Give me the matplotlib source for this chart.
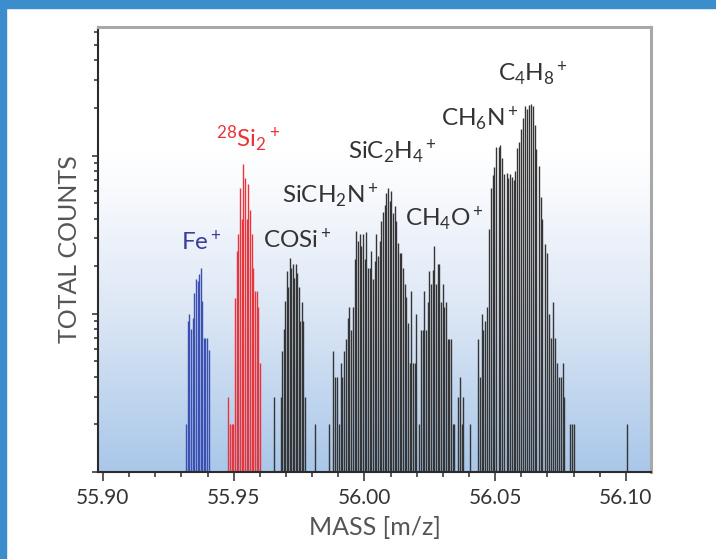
import numpy as np
from matplotlib import pyplot as plt
import matplotlib.ticker as mticker
from matplotlib.colors import LinearSegmentedColormap
from matplotlib.patches import Rectangle

plt.rcParams['font.family'] = ['Lato', 'DejaVu Sans']
plt.rcParams['mathtext.fontset'] = 'custom'
plt.rcParams['mathtext.rm'] = 'Lato'
plt.rcParams['mathtext.it'] = 'Lato:italic'
plt.rcParams['mathtext.bf'] = 'Lato:bold'
plt.rcParams['mathtext.default'] = 'regular'

# Fe+ peak
fe_mass = [55.9317, 55.9324, 55.9330, 55.9337, 55.9343, 55.9349, 55.9356, 55.9362,
           55.9368, 55.9374, 55.9379, 55.9385, 55.9391, 55.9398, 55.9404]
fe_counts = [2.0, 9.0, 10.0, 8.0, 9.4, 13.6, 16.6, 16.1, 17.9, 19.5, 12.1, 7.0, 7.0, 7.0, 5.9]

# 28Si2+ peak
si_mass = [55.9479, 55.9486, 55.9492, 55.9498, 55.9505, 55.9511, 55.9517, 55.9524,
           55.9530, 55.9537, 55.9543, 55.9550, 55.9556, 55.9562, 55.9569, 55.9575,
           55.9581, 55.9588, 55.9594, 55.9600]
si_counts = [3.0, 2.0, 2.0, 2.0, 12.6, 25.0, 32.0, 62.0, 40.0, 88.0, 72.0, 40.0,
             66.0, 45.0, 32.0, 19.5, 14.0, 14.0, 11.0, 4.9]

# everything else (COSi+, SiCH2N+, SiC2H4+, CH4O+, CH6N+, C4H8+)
other_mass = [
    55.9654, 55.9680, 55.9686, 55.9691, 55.9697, 55.9702, 55.9708, 55.9714, 55.9720,
    55.9725, 55.9731, 55.9737, 55.9743, 55.9748, 55.9754, 55.9760, 55.9766, 55.9771,
    55.9810,
    55.9865, 55.9881, 55.9887, 55.9896, 55.9902, 55.9909, 55.9915, 55.9922, 55.9929,
    55.9936, 55.9942, 55.9948, 55.9955, 55.9963, 55.9969, 55.9975, 55.9982, 55.9988,
    55.9994, 56.0001, 56.0007, 56.0013, 56.0020, 56.0026, 56.0032, 56.0039, 56.0045,
    56.0052, 56.0058, 56.0064, 56.0071, 56.0077, 56.0083, 56.0090, 56.0096, 56.0102,
    56.0109, 56.0115, 56.0122, 56.0128, 56.0135, 56.0141, 56.0147, 56.0154, 56.0160,
    56.0166, 56.0173, 56.0179, 56.0185, 56.0192, 56.0198,
    56.0210, 56.0216, 56.0223, 56.0229, 56.0235, 56.0242, 56.0248, 56.0254, 56.0261,
    56.0267, 56.0273, 56.0280, 56.0286, 56.0293, 56.0299, 56.0305, 56.0312, 56.0318,
    56.0324, 56.0331, 56.0337, 56.0343, 56.0359, 56.0365, 56.0372, 56.0378, 56.0403,
    56.0435, 56.0442, 56.0449, 56.0454, 56.0462, 56.0470, 56.0477, 56.0483, 56.0490,
    56.0496, 56.0505, 56.0513, 56.0519, 56.0526, 56.0535, 56.0544, 56.0550, 56.0556,
    56.0564, 56.0571, 56.0577, 56.0584, 56.0592, 56.0600, 56.0607, 56.0615, 56.0623,
    56.0630, 56.0637, 56.0643, 56.0651, 56.0658, 56.0666, 56.0674, 56.0681, 56.0689,
    56.0697, 56.0704, 56.0712, 56.0720, 56.0727, 56.0735, 56.0743, 56.0750, 56.0758,
    56.0763, 56.0786, 56.0792, 56.0801, 56.1003]
other_counts = [
    3.0, 3.0, 5.85, 8.0, 12.0, 18.6, 14.7, 22.4, 19.5,
    20.6, 16.8, 20.6, 18.0, 14.7, 9.0, 11.8, 9.0, 3.0,
    2.0,
    2.0, 5.85, 3.96, 3.96, 2.0, 4.9, 3.96, 5.85, 6.9,
    9.4, 11.0, 7.9, 11.0, 22.2, 33.3, 28.8, 32.0, 26.8,
    32.0, 22.2, 33.0, 19.5, 19.5, 24.9, 16.6, 21.5, 32.0,
    23.2, 28.8, 38.5, 44.0, 48.5, 57.7, 62.0, 51.4, 60.0,
    43.2, 47.8, 38.5, 28.0, 24.2, 24.2, 19.5, 15.4, 12.8,
    8.8, 4.9, 14.0, 4.9, 4.9, 10.0,
    2.0, 7.9, 7.9, 14.0, 7.9, 11.8, 18.7, 15.4, 18.9,
    26.8, 15.4, 20.6, 20.6, 11.8, 15.4, 11.0, 11.8, 6.9,
    6.9, 6.9, 2.0, 2.0, 3.0, 3.96, 2.0, 3.0, 2.0,
    6.9, 3.96, 10.0, 7.9, 9.0, 11.0, 34.2, 62.0, 75.0,
    85.0, 113.0, 113.0, 117.0, 96.0, 77.0, 78.0, 72.0, 77.0,
    73.0, 70.0, 80.0, 112.0, 122.0, 148.0, 173.0, 205.0, 198.0,
    210.0, 212.0, 205.0, 157.0, 110.0, 86.0, 55.0, 40.0, 27.6,
    24.2, 10.0, 7.0, 11.8, 7.0, 4.9, 3.96, 3.96, 4.9,
    3.0, 2.0, 2.0, 2.0, 2.0]

# peak labels: text, mass, counts, colour
labels = [r'Fe$^+$', r'$^{28}$Si$_2$$^+$', r'COSi$^+$', r'SiCH$_2$N$^+$',
          r'SiC$_2$H$_4$$^+$', r'CH$_4$O$^+$', r'CH$_6$N$^+$', r'C$_4$H$_8$$^+$']
label_mass = [55.9375, 55.9555, 55.9742, 55.9868, 56.0109, 56.0304, 56.0442, 56.0644]
label_counts = [28.8, 128, 29.6, 56, 106, 39.6, 171, 328]
label_colors = ['#3a3f9a', '#e8353b', '#333333', '#333333', '#333333', '#333333',
                '#333333', '#333333']

xticks = [55.90, 55.95, 56.00, 56.05, 56.10]


def main():
    fig = plt.figure(figsize=(7.16, 5.59), dpi=100)

    # blue frame at top and left
    fig.patches.append(Rectangle((0, 1 - 8 / 559), 1, 8 / 559, transform=fig.transFigure,
                                 color='#3b8dcb', zorder=0))
    fig.patches.append(Rectangle((0, 0), 6 / 716, 1, transform=fig.transFigure,
                                 color='#3b8dcb', zorder=0))

    pos = [98 / 716, 1 - 472 / 559, (651 - 98) / 716, (472 - 27) / 559]

    # gradient background
    bg = fig.add_axes(pos)
    cmap = LinearSegmentedColormap.from_list(
        'bg', [(0.0, '#a9c7e9'), (0.35, '#dbe6f5'), (0.62, '#f7f9fd'), (0.72, '#ffffff'),
               (1.0, '#ffffff')])
    grad = np.linspace(0, 1, 256).reshape(-1, 1)
    bg.imshow(grad, aspect='auto', extent=[0, 1, 0, 1], origin='lower', cmap=cmap)
    bg.axis('off')

    ax = fig.add_axes(pos, facecolor='none')
    ax.set_yscale('log')
    ax.set_xlim(55.8981, 56.1096)
    ax.set_ylim(1, 650)

    ax.vlines(fe_mass, 1, fe_counts, colors='#3c50b2', linewidth=1.0)
    ax.vlines(si_mass, 1, si_counts, colors='#e8353b', linewidth=1.0)
    ax.vlines(other_mass, 1, other_counts, colors='#353535', linewidth=1.0)

    for t, m, c, col in zip(labels, label_mass, label_counts, label_colors):
        ax.text(m, c, t, ha='center', va='center', fontsize=17.5, color=col)

    ax.xaxis.set_major_locator(mticker.FixedLocator(xticks))
    ax.xaxis.set_major_formatter(mticker.FormatStrFormatter('%.2f'))
    ax.xaxis.set_minor_locator(mticker.MultipleLocator(0.01))
    ax.yaxis.set_major_locator(mticker.LogLocator(base=10))
    ax.yaxis.set_minor_locator(mticker.LogLocator(base=10, subs=np.arange(2, 10)))
    ax.yaxis.set_major_formatter(mticker.NullFormatter())
    ax.yaxis.set_minor_formatter(mticker.NullFormatter())

    ax.tick_params(axis='x', which='major', length=6.5, width=1.1, color='#2b2b2b',
                   labelsize=15, labelcolor='#333333', pad=5)
    ax.tick_params(axis='x', which='minor', length=3.6, width=1.1, color='#2b2b2b')
    ax.tick_params(axis='y', which='major', length=4.5, width=1.1, color='#2b2b2b')
    ax.tick_params(axis='y', which='minor', length=2.6, width=1.1, color='#2b2b2b')

    for s in ['left', 'bottom']:
        ax.spines[s].set_color('#2b2b2b')
        ax.spines[s].set_linewidth(1.5)
    for s in ['top', 'right']:
        ax.spines[s].set_color('#a8a8a8')
        ax.spines[s].set_linewidth(2.2)

    ax.set_xlabel('MASS [m/z]', fontsize=18, color='#555555', labelpad=6)
    ax.set_ylabel('TOTAL COUNTS', fontsize=18, color='#555555', labelpad=4)

    fig.savefig('out.png', dpi=100)
    plt.close()


if __name__ == '__main__':
    main()
